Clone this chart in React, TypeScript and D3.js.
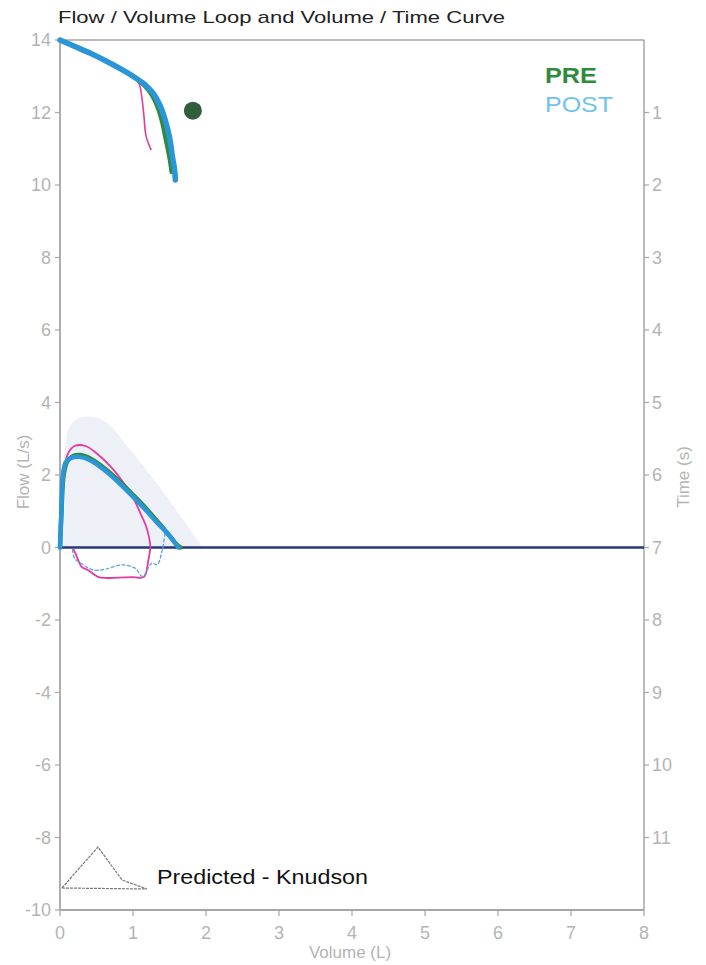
import React from "react";
import * as d3 from "d3";

type P = [number, number];

const flowTicks = [14, 12, 10, 8, 6, 4, 2, 0, -2, -4, -6, -8, -10];
const volumeTicks = [0, 1, 2, 3, 4, 5, 6, 7, 8];
const timeTicks = [1, 2, 3, 4, 5, 6, 7, 8, 9, 10, 11];

// Volume / Time curves: [volume L, time s]
const postVT: P[] = [[0, 0], [0.18, 0.08], [0.41, 0.18], [0.65, 0.3], [0.85, 0.41], [1.03, 0.52], [1.17, 0.62], [1.28, 0.74], [1.37, 0.9], [1.44, 1.1], [1.5, 1.34], [1.54, 1.61], [1.57, 1.79], [1.58, 1.93]];
const preVT: P[] = [[0, 0], [0.18, 0.08], [0.41, 0.18], [0.65, 0.3], [0.85, 0.41], [1.03, 0.52], [1.16, 0.63], [1.26, 0.76], [1.34, 0.93], [1.4, 1.13], [1.45, 1.37], [1.5, 1.62], [1.53, 1.82]];
const pinkVT: P[] = [[0, 0], [0.18, 0.08], [0.41, 0.18], [0.65, 0.3], [0.85, 0.41], [1.03, 0.52], [1.09, 0.62], [1.12, 0.78], [1.15, 1.05], [1.18, 1.33], [1.25, 1.52]];

// Flow / Volume loops: [volume L, flow L/s]
const predictedFV: P[] = [[0, 0], [0.05, 2.4], [0.15, 3.4], [0.32, 3.6], [0.6, 3.5], [1.0, 2.6], [1.5, 1.3], [1.95, 0]];
const preFV: P[] = [[0, 0], [0.02, 1.0], [0.05, 2.0], [0.1, 2.38], [0.18, 2.52], [0.28, 2.55], [0.42, 2.45], [0.6, 2.2], [0.8, 1.85], [1.0, 1.45], [1.2, 1.03], [1.36, 0.66], [1.5, 0.32], [1.6, 0.08], [1.65, 0]];
const postFV: P[] = [[0, 0], [0.02, 1.0], [0.04, 2.0], [0.08, 2.35], [0.16, 2.48], [0.27, 2.5], [0.42, 2.4], [0.6, 2.15], [0.8, 1.8], [1.0, 1.4], [1.2, 0.98], [1.35, 0.64], [1.46, 0.42], [1.55, 0.2], [1.62, 0]];
const postInsp: P[] = [[1.44, 0.4], [1.4, -0.07], [1.33, -0.48], [1.26, -0.43], [1.13, -0.8], [1.03, -0.57], [0.85, -0.48], [0.62, -0.6], [0.45, -0.62], [0.3, -0.45], [0.2, -0.3], [0.17, -0.03]];
const pinkFV: P[] = [[0, 0], [0.04, 1.5], [0.1, 2.55], [0.2, 2.8], [0.35, 2.8], [0.5, 2.6], [0.7, 2.22], [0.9, 1.7], [1.02, 1.3], [1.1, 0.95], [1.18, 0.58], [1.22, 0.28], [1.24, 0]];
const pinkInsp: P[] = [[1.24, 0], [1.21, -0.35], [1.15, -0.81], [1.0, -0.82], [0.8, -0.83], [0.62, -0.84], [0.52, -0.81], [0.38, -0.62], [0.3, -0.54], [0.22, -0.2], [0.18, -0.03]];

const marker: P = [1.82, 12.05]; // [volume, flow]

const legendTriangle: P[] = [[0, 41], [36, 0], [60, 33], [85, 42], [0, 41]];

const L = 60, R = 644, T = 40, B = 910;
const x = d3.scaleLinear().domain([0, 8]).range([L, R]);
const yF = d3.scaleLinear().domain([-10, 14]).range([B, T]);
const yT = d3.scaleLinear().domain([0, 12]).range([T, B]);

const lineFV = d3.line<P>().x(d => x(d[0])).y(d => yF(d[1])).curve(d3.curveCatmullRom.alpha(0.5));
const lineVT = d3.line<P>().x(d => x(d[0])).y(d => yT(d[1])).curve(d3.curveCatmullRom.alpha(0.5));
const areaFV = d3.area<P>().x(d => x(d[0])).y0(yF(0)).y1(d => yF(d[1])).curve(d3.curveCatmullRom.alpha(0.5));

const gray = "#b4b4b4";
const axisGray = "#a6a6a6";
const font = "Liberation Sans, Arial, sans-serif";

export default function App() {
  return (
    <svg width={706} height={965} style={{ position: "absolute", left: 0, top: 0, background: "#fff" }} fontFamily={font}>
      <rect width={706} height={965} fill="#fff" />
      <text x={58} y={23} fontSize={17} fill="#222" textLength={447} lengthAdjust="spacingAndGlyphs">Flow / Volume Loop and Volume / Time Curve</text>

      {/* predicted shading */}
      <path d={areaFV(predictedFV) || ""} fill="#eef0f8" stroke="none" />

      {/* frame */}
      <line x1={L} x2={R} y1={T} y2={T} stroke={axisGray} strokeWidth={1.5} />
      <line x1={R} x2={R} y1={T} y2={B} stroke={axisGray} strokeWidth={1.5} />
      <line x1={L} x2={L} y1={T} y2={B} stroke={axisGray} strokeWidth={1.8} />
      <line x1={L} x2={R} y1={B} y2={B} stroke={axisGray} strokeWidth={1.8} />

      {/* left ticks */}
      {flowTicks.map(t => (
        <g key={"f" + t}>
          <line x1={L - 5} x2={L} y1={yF(t)} y2={yF(t)} stroke={axisGray} strokeWidth={1.2} />
          <text x={L - 9} y={yF(t)} dy="0.36em" textAnchor="end" fontSize={18} fill={gray}>{t < 0 ? "-" + Math.abs(t) : t}</text>
        </g>
      ))}
      {/* right ticks */}
      {timeTicks.map(t => (
        <g key={"t" + t}>
          <line x1={R} x2={R + 5} y1={yT(t)} y2={yT(t)} stroke={axisGray} strokeWidth={1.2} />
          <text x={R + 8} y={yT(t)} dy="0.36em" textAnchor="start" fontSize={18} fill={gray}>{t}</text>
        </g>
      ))}
      {/* bottom ticks */}
      {volumeTicks.map(t => (
        <g key={"v" + t}>
          <line x1={x(t)} x2={x(t)} y1={B} y2={B + 6} stroke={axisGray} strokeWidth={1.2} />
          <text x={x(t)} y={B + 29} textAnchor="middle" fontSize={18} fill={gray}>{t}</text>
        </g>
      ))}
      <text x={x(4) - 2} y={958} textAnchor="middle" fontSize={17} fill={gray}>Volume (L)</text>
      <text transform={`translate(29,472) rotate(-90)`} textAnchor="middle" fontSize={17} fill={gray}>Flow (L/s)</text>
      <text transform={`translate(689,477) rotate(-90)`} textAnchor="middle" fontSize={17} fill={gray}>Time (s)</text>

      {/* zero line */}
      <line x1={x(0)} x2={R} y1={yF(0)} y2={yF(0)} stroke="#25397a" strokeWidth={2.6} />

      {/* pink curves */}
      <path d={lineVT(pinkVT) || ""} fill="none" stroke="#e23c9c" strokeWidth={1.6} />
      <path d={lineFV(pinkFV) || ""} fill="none" stroke="#e23c9c" strokeWidth={1.8} />
      <path d={lineFV(pinkInsp) || ""} fill="none" stroke="#e23c9c" strokeWidth={1.8} />
      <path d={lineFV(postInsp) || ""} fill="none" stroke="#5aa5e2" strokeWidth={1.3} strokeDasharray="4 1.5" />

      {/* PRE green */}
      <path d={lineVT(preVT) || ""} fill="none" stroke="#2e8b3e" strokeWidth={4.5} strokeLinecap="round" />
      <path d={lineFV(preFV) || ""} fill="none" stroke="#2e8b3e" strokeWidth={4.5} strokeLinecap="round" />

      {/* POST blue */}
      <path d={lineVT(postVT) || ""} fill="none" stroke="#2a96d8" strokeWidth={5.5} strokeLinecap="round" />
      <path d={lineFV(postFV) || ""} fill="none" stroke="#2a96d8" strokeWidth={4.5} strokeLinecap="round" />

      {/* marker */}
      <circle cx={x(marker[0])} cy={yF(marker[1])} r={9} fill="#2f5e3c" />

      {/* legends */}
      <text x={545} y={83} fontSize={22} fontWeight="bold" fill="#2e8b3e" textLength={52} lengthAdjust="spacingAndGlyphs">PRE</text>
      <text x={545} y={112} fontSize={22} fill="#6ec3ef" textLength={68} lengthAdjust="spacingAndGlyphs">POST</text>

      <path d={d3.line<P>().x(d => 62 + d[0]).y(d => 847 + d[1])(legendTriangle) || ""} fill="none" stroke="#777" strokeWidth={1.2} strokeDasharray="3 1" />
      <text x={157} y={884} fontSize={21} fill="#111" textLength={211} lengthAdjust="spacingAndGlyphs">Predicted - Knudson</text>
    </svg>
  );
}
